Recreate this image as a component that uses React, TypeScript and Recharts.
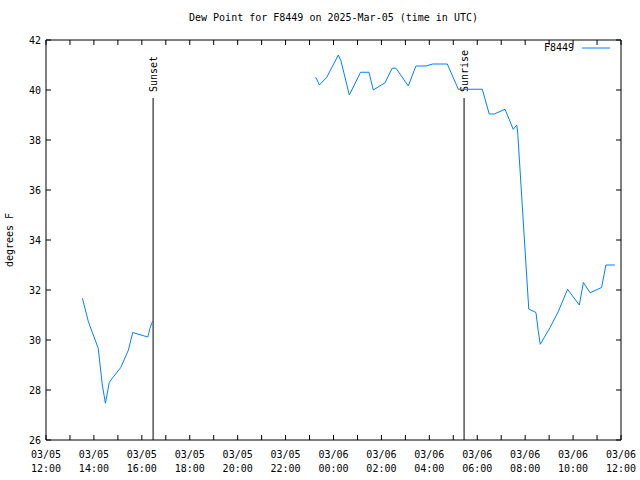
import React from 'react';
import { LineChart, Line, XAxis, YAxis, ReferenceLine } from 'recharts';

// Hours since 03/05 12:00 UTC
const hours = [1.52, 1.77, 2.18, 2.35, 2.48, 2.64, 2.74, 3.12, 3.44, 3.62, 4.25, 4.34, 4.45, 8, 11.26, 11.41, 11.72, 12.2, 12.31, 12.66, 13.13, 13.48, 13.66, 14.15, 14.45, 14.61, 15.12, 15.44, 15.86, 16.14, 16.75, 17.21, 18.21, 18.5, 18.71, 19.16, 19.5, 19.65, 19.69, 20.15, 20.45, 20.55, 20.63, 21.04, 21.38, 21.77, 22.26, 22.43, 22.71, 23.19, 23.37, 23.74];
const dewF: (number | null)[] = [31.67, 30.73, 29.67, 28.2, 27.47, 28.3, 28.44, 28.9, 29.6, 30.3, 30.12, 30.47, 30.76, null, 40.51, 40.2, 40.51, 41.4, 41.17, 39.8, 40.71, 40.71, 40.0, 40.29, 40.87, 40.87, 40.16, 40.96, 40.96, 41.04, 41.04, 40.03, 40.03, 39.04, 39.04, 39.23, 38.43, 38.6, 38.27, 31.24, 31.1, 30.33, 29.83, 30.5, 31.13, 32.03, 31.4, 32.3, 31.89, 32.1, 33.0, 33.0];

const xTickHours = [0, 1, 2, 3, 4, 5, 6, 7, 8, 9, 10, 11, 12, 13, 14, 15, 16, 17, 18, 19, 20, 21, 22, 23, 24];
const xTickDates = ['03/05', '03/05', '03/05', '03/05', '03/05', '03/05', '03/06', '03/06', '03/06', '03/06', '03/06', '03/06', '03/06'];
const xTickTimes = ['12:00', '14:00', '16:00', '18:00', '20:00', '22:00', '00:00', '02:00', '04:00', '06:00', '08:00', '10:00', '12:00'];
const yTicks = [26, 28, 30, 32, 34, 36, 38, 40, 42];

const sunsetHour = 4.47;
const sunriseHour = 17.45;
const sunLineTop = 39.68;
const seriesName = 'F8449';
const titleText = 'Dew Point for F8449 on 2025-Mar-05 (time in UTC)';
const yLabelText = 'degrees F';

const data = hours.map((h, i) => ({ hour: h, dew: dewF[i] }));

const FONT = '"DejaVu Sans Mono", monospace';
const FS = 10;
const TICK = 5;
const LINE_COLOR = '#0080ff';

const BottomTick = (props: any) => {
  const { x, y, payload } = props;
  const v = payload.value as number;
  const major = v % 2 === 0;
  const idx = v / 2;
  return (
    <g>
      <line x1={x} x2={x} y1={y} y2={y - TICK} stroke="#000" />
      {major && (
        <text x={x} y={y + 18} textAnchor="middle" fontFamily={FONT} fontSize={FS} fill="#000">
          {xTickDates[idx]}
        </text>
      )}
      {major && (
        <text x={x} y={y + 32} textAnchor="middle" fontFamily={FONT} fontSize={FS} fill="#000">
          {xTickTimes[idx]}
        </text>
      )}
    </g>
  );
};

const TopTick = (props: any) => {
  const { x, y } = props;
  return <line x1={x} x2={x} y1={y} y2={y + TICK} stroke="#000" />;
};

const LeftTick = (props: any) => {
  const { x, y, payload } = props;
  return (
    <g>
      <line x1={x} x2={x + TICK} y1={y} y2={y} stroke="#000" />
      <text x={x - 5} y={y} dy="0.35em" textAnchor="end" fontFamily={FONT} fontSize={FS} fill="#000">
        {payload.value}
      </text>
    </g>
  );
};

const RightTick = (props: any) => {
  const { x, y } = props;
  return <line x1={x} x2={x - TICK} y1={y} y2={y} stroke="#000" />;
};

const sunLabel = (text: string) => (props: any) => {
  const vb = props.viewBox || {};
  const x = vb.x ?? 0;
  const y = vb.y ?? 0;
  return (
    <text
      transform={`translate(${x + 4}, ${y - 6}) rotate(-90)`}
      textAnchor="start"
      fontFamily={FONT}
      fontSize={FS}
      fill="#000"
    >
      {text}
    </text>
  );
};

export default function App() {
  return (
    <div style={{ position: 'absolute', left: 0, top: 0, width: 640, height: 480, background: '#fff' }}>
      <LineChart
        width={640}
        height={480}
        data={data}
        margin={{ top: 30, right: 9, bottom: 10, left: 16 }}
        style={{ position: 'absolute', left: 0, top: 0 }}
      >
        <XAxis
          xAxisId="b"
          dataKey="hour"
          type="number"
          domain={[0, 24]}
          ticks={xTickHours}
          interval={0}
          orientation="bottom"
          height={30}
          tickSize={0}
          tickMargin={0}
          axisLine={{ stroke: '#000' }}
          tickLine={false}
          tick={<BottomTick />}
          allowDataOverflow
        />
        <XAxis
          xAxisId="t"
          dataKey="hour"
          type="number"
          domain={[0, 24]}
          ticks={xTickHours}
          interval={0}
          orientation="top"
          height={10}
          tickSize={0}
          tickMargin={0}
          axisLine={{ stroke: '#000' }}
          tickLine={false}
          tick={<TopTick />}
          allowDataOverflow
        />
        <YAxis
          yAxisId="l"
          type="number"
          domain={[26, 42]}
          ticks={yTicks}
          interval={0}
          orientation="left"
          width={30}
          tickSize={0}
          tickMargin={0}
          axisLine={{ stroke: '#000' }}
          tickLine={false}
          tick={<LeftTick />}
          allowDataOverflow
        />
        <YAxis
          yAxisId="r"
          type="number"
          domain={[26, 42]}
          ticks={yTicks}
          interval={0}
          orientation="right"
          width={10}
          tickSize={0}
          tickMargin={0}
          axisLine={{ stroke: '#000' }}
          tickLine={false}
          tick={<RightTick />}
          allowDataOverflow
        />
        <ReferenceLine
          xAxisId="b"
          yAxisId="l"
          segment={[{ x: sunsetHour, y: sunLineTop }, { x: sunsetHour, y: 26 }]}
          stroke="#000"
          strokeWidth={1}
          label={sunLabel('Sunset')}
        />
        <ReferenceLine
          xAxisId="b"
          yAxisId="l"
          segment={[{ x: sunriseHour, y: sunLineTop }, { x: sunriseHour, y: 26 }]}
          stroke="#000"
          strokeWidth={1}
          label={sunLabel('Sunrise')}
        />
        <Line
          xAxisId="b"
          yAxisId="l"
          type="linear"
          dataKey="dew"
          name={seriesName}
          stroke={LINE_COLOR}
          strokeWidth={1}
          dot={false}
          activeDot={false}
          connectNulls={false}
          isAnimationActive={false}
        />
      </LineChart>
      <div
        style={{
          position: 'absolute', left: 46, width: 575, top: 12, textAlign: 'center',
          fontFamily: FONT, fontSize: FS, lineHeight: '12px', color: '#000',
        }}
      >
        {titleText}
      </div>
      <div style={{ position: 'absolute', left: 10, top: 240, width: 0, height: 0 }}>
        <div
          style={{
            position: 'absolute', transform: 'translate(-50%, -50%) rotate(-90deg)',
            fontFamily: FONT, fontSize: FS, lineHeight: '12px', whiteSpace: 'nowrap', color: '#000',
          }}
        >
          {yLabelText}
        </div>
      </div>
      <div
        style={{
          position: 'absolute', left: 544, top: 42, display: 'flex', alignItems: 'center',
          fontFamily: FONT, fontSize: FS, lineHeight: '12px', color: '#000',
        }}
      >
        <span>{seriesName}</span>
        <svg width={28} height={4} style={{ marginLeft: 8 }}>
          <line x1={0} x2={28} y1={2} y2={2} stroke={LINE_COLOR} strokeWidth={1} />
        </svg>
      </div>
    </div>
  );
}
